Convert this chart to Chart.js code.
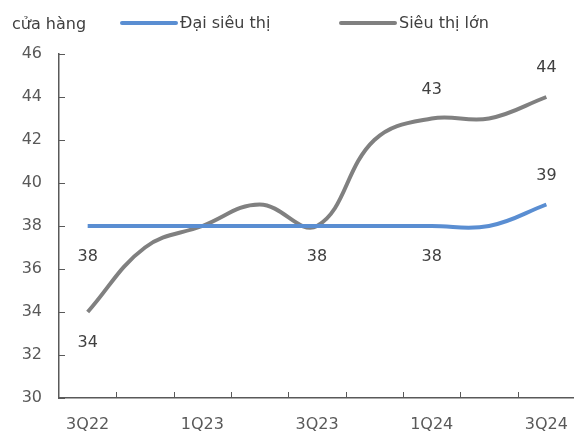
<!DOCTYPE html>
<html>
<head>
<meta charset="utf-8">
<style>
  html, body { margin: 0; padding: 0; background: #fff; overflow: hidden; }
  #wrap { width: 585px; height: 432px; }
</style>
</head>
<body>
<div id="wrap"><canvas id="storeChart"></canvas></div>
<script src="https://cdn.jsdelivr.net/npm/chart.js"></script>
<script>
const quarters = ["3Q22", "4Q22", "1Q23", "2Q23", "3Q23", "4Q23", "1Q24", "2Q24", "3Q24"];
const daiSieuThi = [38, 38, 38, 38, 38, 38, 38, 38, 39];
const sieuThiLon = [34, 37, 38, 39, 38, 42, 43, 43, 44];

// which points carry a value label, and on which side of the line
const daiSieuThiLabels = ["below", null, null, null, "below", null, "below", null, "above"];
const sieuThiLonLabels = ["below", null, null, null, null, null, "above", null, "above"];

const FONT = "DejaVu Sans";
const TEXT = "#404040";
const AXIS = "#595959";

// small tick marks pointing into the plot, as in the workbook chart
const innerTicks = {
  id: "innerTicks",
  afterDraw(chart) {
    const { ctx, scales: { x, y } } = chart;
    ctx.save();
    ctx.strokeStyle = AXIS;
    ctx.lineWidth = 1;
    ctx.beginPath();
    y.ticks.forEach((t, i) => {
      const py = Math.round(y.getPixelForTick(i)) + 0.5;
      ctx.moveTo(x.left, py);
      ctx.lineTo(x.left + 6, py);
    });
    const step = x.getPixelForValue(1) - x.getPixelForValue(0);
    for (let i = 1; i <= quarters.length; i++) {
      const px = Math.round(x.getPixelForValue(i) - step / 2) + 0.5;
      ctx.moveTo(px, y.bottom);
      ctx.lineTo(px, y.bottom - 6);
    }
    ctx.stroke();
    ctx.restore();
  }
};

// value labels next to selected points
const valueLabels = {
  id: "valueLabels",
  afterDatasetsDraw(chart) {
    const { ctx } = chart;
    ctx.save();
    ctx.font = "16px '" + FONT + "'";
    ctx.fillStyle = TEXT;
    ctx.textAlign = "center";
    ctx.textBaseline = "middle";
    chart.data.datasets.forEach((ds, di) => {
      const meta = chart.getDatasetMeta(di);
      meta.data.forEach((pt, i) => {
        const side = ds.labelSide[i];
        if (!side) return;
        const dy = side === "above" ? -29 : 31;
        ctx.fillText(String(ds.data[i]), pt.x, pt.y + dy);
      });
    });
    ctx.restore();
  }
};

// unit caption and legend sharing the top row
const header = {
  id: "header",
  afterDraw(chart) {
    const { ctx } = chart;
    ctx.save();
    ctx.font = "16px '" + FONT + "'";
    ctx.fillStyle = TEXT;
    ctx.textBaseline = "middle";
    ctx.fillText("cửa hàng", 12, 25);
    const items = [
      { ds: chart.data.datasets[0], x: 122 },
      { ds: chart.data.datasets[1], x: 341 }
    ];
    items.forEach(it => {
      ctx.strokeStyle = it.ds.borderColor;
      ctx.lineWidth = 4;
      ctx.lineCap = "round";
      ctx.beginPath();
      ctx.moveTo(it.x, 23);
      ctx.lineTo(it.x + 54, 23);
      ctx.stroke();
      ctx.fillText(it.ds.label, it.x + 58, 24);
    });
    ctx.restore();
  }
};

const ctx = document.getElementById("storeChart").getContext("2d");
new Chart(ctx, {
  type: "line",
  data: {
    labels: quarters,
    datasets: [
      {
        label: "Đại siêu thị",
        data: daiSieuThi,
        labelSide: daiSieuThiLabels,
        borderColor: "#5A8ED2",
        borderWidth: 4,
        pointRadius: 0,
        tension: 0.4,
        fill: false
      },
      {
        label: "Siêu thị lớn",
        data: sieuThiLon,
        labelSide: sieuThiLonLabels,
        borderColor: "#808080",
        borderWidth: 4,
        pointRadius: 0,
        tension: 0.4,
        fill: false
      }
    ]
  },
  options: {
    responsive: true,
    maintainAspectRatio: false,
    animation: false,
    layout: { padding: { top: 54, right: 1, left: 0, bottom: 0 } },
    plugins: {
      legend: { display: false },
      tooltip: { enabled: false }
    },
    scales: {
      x: {
        offset: true,
        grid: { display: false, drawTicks: false },
        border: { color: AXIS, width: 1.5 },
        ticks: {
          autoSkip: false,
          maxRotation: 0,
          padding: 17,
          color: AXIS,
          font: { family: FONT, size: 16 },
          callback: (v, i) => (i % 2 === 0 ? quarters[i] : "")
        },
        afterFit: s => { s.height = 34; }
      },
      y: {
        min: 30,
        max: 46,
        grid: { display: false, drawTicks: false },
        border: { color: AXIS, width: 1.5 },
        ticks: {
          stepSize: 2,
          padding: 17,
          color: AXIS,
          font: { family: FONT, size: 16 }
        },
        afterFit: s => { s.width = 59; }
      }
    }
  },
  plugins: [innerTicks, valueLabels, header]
});
</script>
</body>
</html>
